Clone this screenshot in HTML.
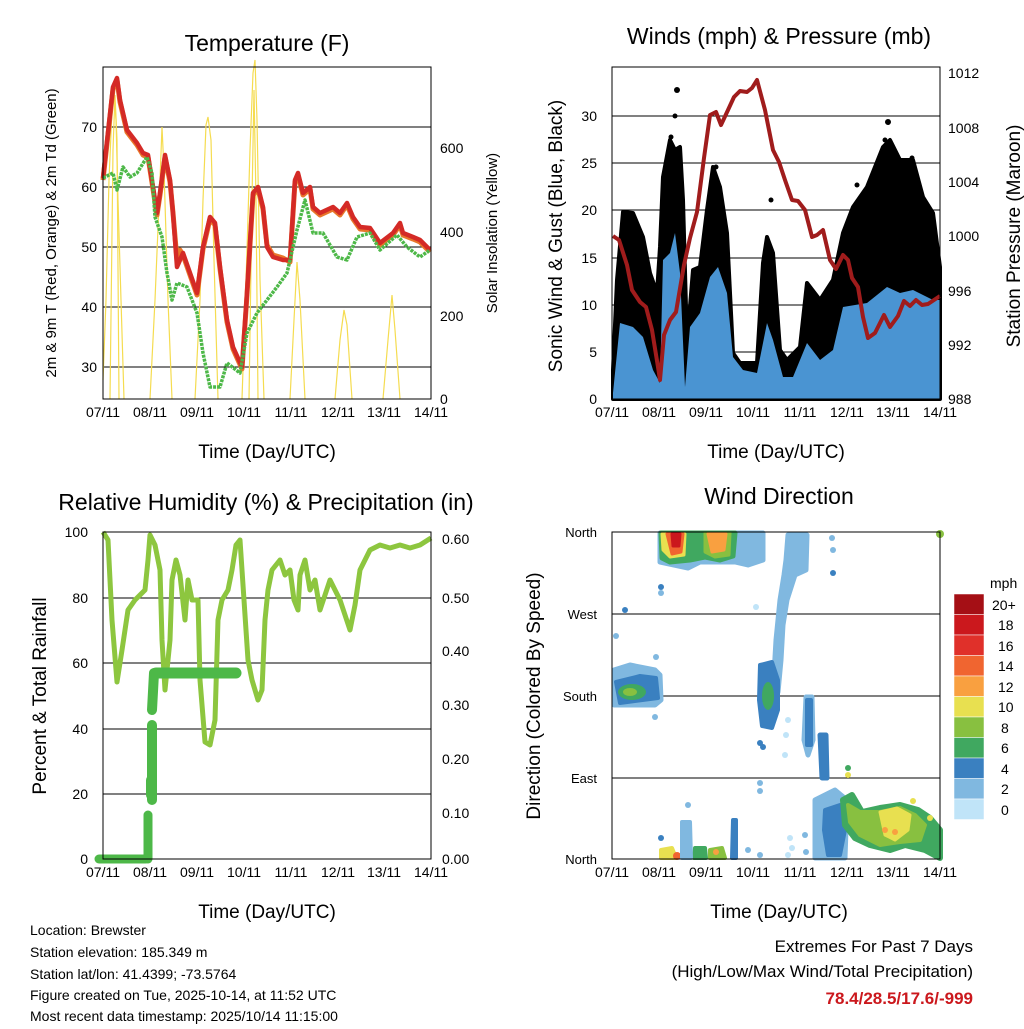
<!DOCTYPE html>
<html><head><meta charset="utf-8"><style>
body{margin:0;background:#fff}
svg{font-family:"Liberation Sans",sans-serif}
</style></head><body>
<svg width="1024" height="1024" viewBox="0 0 1024 1024" xmlns="http://www.w3.org/2000/svg">
<rect width="1024" height="1024" fill="#fff"/>
<!-- ============ PANEL 1 TEMPERATURE ============ -->
<text x="267" y="51" font-size="23" text-anchor="middle">Temperature (F)</text>
<g stroke="#000" stroke-width="1">
<line x1="103" y1="127" x2="431" y2="127"/><line x1="103" y1="187" x2="431" y2="187"/><line x1="103" y1="247" x2="431" y2="247"/><line x1="103" y1="307" x2="431" y2="307"/><line x1="103" y1="367" x2="431" y2="367"/>
</g>
<g fill="none" stroke="#f5dc50" stroke-width="1.2">
<path d="M103,380 L106,300 L109,180 L112,110 L114,93 L116,120 L118,200 L121,300 L124,399"/>
<path d="M110,399 L113,150 L115,95 L117,140 L119,399"/>
<path d="M150,399 L155,300 L160,180 L162,127 L164,170 L168,300 L172,399"/>
<path d="M195,399 L200,300 L203,200 L206,125 L208,117 L211,140 L214,260 L218,399"/>
<path d="M242,399 L247,250 L250,150 L253,73 L255,60 L257,120 L260,280 L264,399"/>
<path d="M249,399 L252,200 L254,90 L256,200 L258,399"/>
<path d="M290,399 L294,320 L297,262 L300,300 L305,399"/>
<path d="M335,399 L340,340 L344,310 L347,325 L352,399"/>
<path d="M383,399 L388,340 L392,295 L395,330 L400,399"/>
</g>
<polyline fill="none" stroke="#e8762a" stroke-width="5" stroke-linejoin="round" points="103,180 113,89 117,80 120,102 127,132 137,145 143,155 148,157 153,189 157,215 160,195 165,157 170,182 173,213 177,260 180,250 183,255 190,275 197,295 203,249 210,219 215,225 220,269 227,322 233,349 242,369 247,295 253,195 258,189 263,209 267,245 273,255 283,258 290,262 295,182 298,175 303,195 310,189 313,209 320,215 333,209 340,215 347,205 353,219 360,229 370,230 380,245 393,235 400,225 403,235 413,239 420,242 430,252"/>
<polyline fill="none" stroke="#d42a26" stroke-width="4.5" stroke-linejoin="round" points="103,178 113,87 117,78 120,100 127,130 137,143 143,153 148,155 153,187 157,213 160,193 165,155 170,180 173,213 177,267 180,260 183,253 190,273 197,293 203,247 210,217 215,223 220,267 227,320 233,347 242,367 247,293 253,193 258,187 263,207 267,247 273,257 283,260 290,260 295,180 298,173 303,193 310,187 313,207 320,213 333,207 340,213 347,203 353,217 360,227 370,228 380,243 393,233 400,223 403,233 413,237 420,240 430,250"/>
<polyline fill="none" stroke="#4db848" stroke-width="3.5" stroke-dasharray="3,1" stroke-linejoin="round" points="103,178 113,173 117,190 123,167 130,177 137,173 147,157 152,173 155,217 162,237 167,273 172,300 177,283 187,287 197,313 203,353 210,387 220,387 227,363 240,373 247,333 257,313 267,300 277,287 287,273 297,230 305,200 313,233 323,233 337,257 347,260 357,237 370,233 380,250 397,235 407,247 420,257 430,250"/>
<rect x="103" y="67" width="328" height="332" fill="none" stroke="#000" stroke-width="1"/>
<g font-size="14" text-anchor="end">
<text x="97" y="132">70</text><text x="97" y="192">60</text><text x="97" y="252">50</text><text x="97" y="312">40</text><text x="97" y="372">30</text>
</g>
<g font-size="14">
<text x="440" y="153">600</text><text x="440" y="237">400</text><text x="440" y="321">200</text><text x="440" y="404">0</text>
</g>
<g font-size="14" text-anchor="middle">
<text x="103" y="417">07/11</text><text x="150" y="417">08/11</text><text x="197" y="417">09/11</text><text x="244" y="417">10/11</text><text x="291" y="417">11/11</text><text x="338" y="417">12/11</text><text x="384" y="417">13/11</text><text x="431" y="417">14/11</text>
</g>
<text x="267" y="458" font-size="19" text-anchor="middle">Time (Day/UTC)</text>
<text transform="translate(56,233) rotate(-90)" font-size="15" text-anchor="middle">2m &amp; 9m T (Red, Orange) &amp; 2m Td (Green)</text>
<text transform="translate(497,233) rotate(-90)" font-size="15" text-anchor="middle">Solar Insolation (Yellow)</text>

<!-- ============ PANEL 2 WINDS ============ -->
<text x="779" y="44" font-size="23" text-anchor="middle">Winds (mph) &amp; Pressure (mb)</text>
<g stroke="#000" stroke-width="1">
<line x1="612" y1="116" x2="940" y2="116"/><line x1="612" y1="163" x2="940" y2="163"/><line x1="612" y1="210" x2="940" y2="210"/><line x1="612" y1="258" x2="940" y2="258"/><line x1="612" y1="305" x2="940" y2="305"/><line x1="612" y1="352" x2="940" y2="352"/>
</g>
<polygon fill="#000" stroke="#000" stroke-width="4" stroke-linejoin="round" points="613,399 613,370 617,280 623,212 633,213 643,237 650,273 657,293 660,247 663,177 670,140 675,150 680,147 683,200 687,343 693,270 700,267 707,210 713,167 720,187 727,233 733,353 740,363 757,363 763,263 767,237 773,253 780,350 787,360 800,347 807,283 820,300 833,280 843,233 853,207 867,187 883,147 890,140 900,160 913,160 923,197 933,213 940,267 940,399"/>
<g fill="#000"><circle cx="677" cy="90" r="3"/><circle cx="675" cy="116" r="2.5"/><circle cx="671" cy="137" r="2.5"/><circle cx="716" cy="167" r="2.5"/><circle cx="771" cy="200" r="2.5"/><circle cx="888" cy="122" r="3"/><circle cx="885" cy="140" r="2.5"/><circle cx="912" cy="158" r="2.5"/><circle cx="625" cy="212" r="2.5"/><circle cx="857" cy="185" r="2.5"/></g>
<polygon fill="#4a94d2" points="613,399 613,393 620,323 633,327 643,337 653,370 660,383 663,260 670,253 675,233 680,273 685,387 690,327 700,313 710,277 718,267 727,293 733,357 743,370 757,373 767,323 773,340 783,377 793,377 807,343 820,360 833,350 843,307 867,303 887,287 900,293 913,290 933,300 940,300 940,399"/>
<polyline fill="none" stroke="#a01c1c" stroke-width="4" stroke-linejoin="round" points="613,236 619,240 627,265 632,290 640,302 646,307 652,330 658,367 660,380 664,335 670,320 676,312 684,265 690,238 697,212 704,158 710,115 716,112 721,125 728,110 734,97 740,91 747,92 752,88 757,80 765,110 773,150 779,162 785,180 792,200 798,201 805,210 812,237 817,235 823,230 830,260 836,269 843,255 848,260 852,278 858,287 863,317 868,338 875,333 884,315 890,327 898,316 904,301 910,306 916,300 922,305 928,304 934,300 940,296"/>
<rect x="612" y="67" width="328" height="332" fill="none" stroke="#000" stroke-width="1"/>
<g font-size="14" text-anchor="end">
<text x="597" y="121">30</text><text x="597" y="168">25</text><text x="597" y="215">20</text><text x="597" y="263">15</text><text x="597" y="310">10</text><text x="597" y="357">5</text><text x="597" y="404">0</text>
</g>
<g font-size="14">
<text x="948" y="78">1012</text><text x="948" y="133">1008</text><text x="948" y="187">1004</text><text x="948" y="241">1000</text><text x="948" y="296">996</text><text x="948" y="350">992</text><text x="948" y="404">988</text>
</g>
<g font-size="14" text-anchor="middle">
<text x="612" y="417">07/11</text><text x="659" y="417">08/11</text><text x="706" y="417">09/11</text><text x="753" y="417">10/11</text><text x="800" y="417">11/11</text><text x="847" y="417">12/11</text><text x="893" y="417">13/11</text><text x="940" y="417">14/11</text>
</g>
<text x="776" y="458" font-size="19" text-anchor="middle">Time (Day/UTC)</text>
<text transform="translate(562,236) rotate(-90)" font-size="19" text-anchor="middle">Sonic Wind &amp; Gust (Blue, Black)</text>
<text transform="translate(1020,236) rotate(-90)" font-size="19" text-anchor="middle">Station Pressure (Maroon)</text>

<!-- ============ PANEL 3 RH ============ -->
<text x="266" y="510" font-size="23" text-anchor="middle">Relative Humidity (%) &amp; Precipitation (in)</text>
<g stroke="#000" stroke-width="1">
<line x1="103" y1="598" x2="431" y2="598"/><line x1="103" y1="663" x2="431" y2="663"/><line x1="103" y1="729" x2="431" y2="729"/><line x1="103" y1="794" x2="431" y2="794"/>
</g>
<polyline fill="none" stroke="#8dc63f" stroke-width="5" stroke-linejoin="round" points="103,532 108,540 112,620 117,682 122,650 128,610 135,600 145,590 148,560 150,535 155,545 160,570 162,640 165,690 170,640 172,580 176,560 180,575 185,620 188,580 192,600 198,600 200,680 205,742 210,745 215,720 218,620 222,600 228,590 232,570 236,545 240,540 244,600 248,660 252,680 258,700 262,690 265,620 268,590 272,570 280,560 285,575 290,570 294,600 298,610 300,575 305,560 310,590 315,580 320,610 330,580 340,600 350,630 355,605 360,570 365,560 370,550 380,545 390,548 400,545 410,548 420,545 431,538"/>
<g stroke="#4db848" stroke-linecap="round" fill="none">
<line x1="99" y1="859" x2="146" y2="859" stroke-width="9"/>
<line x1="148" y1="859" x2="148" y2="815" stroke-width="9"/>
<line x1="152" y1="800" x2="152" y2="725" stroke-width="10"/>
<line x1="152" y1="710" x2="154" y2="673" stroke-width="10"/>
<line x1="156" y1="673" x2="236" y2="673" stroke-width="11"/>
<line x1="151" y1="780" x2="151" y2="795" stroke-width="10"/>
</g>
<rect x="103" y="532" width="328" height="327" fill="none" stroke="#000" stroke-width="1"/>
<g font-size="14" text-anchor="end">
<text x="88" y="537">100</text><text x="88" y="603">80</text><text x="88" y="668">60</text><text x="88" y="734">40</text><text x="88" y="799">20</text><text x="88" y="864">0</text>
</g>
<g font-size="14">
<text x="442" y="544">0.60</text><text x="442" y="603">0.50</text><text x="442" y="656">0.40</text><text x="442" y="710">0.30</text><text x="442" y="764">0.20</text><text x="442" y="818">0.10</text><text x="442" y="864">0.00</text>
</g>
<g font-size="14" text-anchor="middle">
<text x="103" y="877">07/11</text><text x="150" y="877">08/11</text><text x="197" y="877">09/11</text><text x="244" y="877">10/11</text><text x="291" y="877">11/11</text><text x="338" y="877">12/11</text><text x="384" y="877">13/11</text><text x="431" y="877">14/11</text>
</g>
<text x="267" y="918" font-size="19" text-anchor="middle">Time (Day/UTC)</text>
<text transform="translate(46,696) rotate(-90)" font-size="19" text-anchor="middle">Percent &amp; Total Rainfall</text>

<!-- ============ PANEL 4 WIND DIRECTION ============ -->
<text x="779" y="504" font-size="23" text-anchor="middle">Wind Direction</text>
<g stroke="#000" stroke-width="1">
<line x1="612" y1="614" x2="940" y2="614"/><line x1="612" y1="696" x2="940" y2="696"/><line x1="612" y1="778" x2="940" y2="778"/>
</g>
<g stroke-linejoin="round" stroke-linecap="round">
<polygon fill="#80b8e0" stroke="#80b8e0" stroke-width="5" points="660,533 735,533 763,533 763,560 748,565 735,562 700,562 688,568 660,562"/>
<polygon fill="#40a860" stroke="#40a860" stroke-width="5" points="661,533 735,533 733,556 720,560 705,557 690,560 670,562 662,558"/>
<polygon fill="#88c040" stroke="#88c040" stroke-width="3" points="705,533 730,533 729,555 715,557 705,552"/>
<polygon fill="#f9a040" stroke="#f9a040" stroke-width="3" points="708,534 726,534 724,550 712,552"/>
<polygon fill="#e8e050" stroke="#e8e050" stroke-width="3" points="662,534 685,534 684,555 670,557 663,550"/>
<polygon fill="#f06530" stroke="#f06530" stroke-width="3" points="667,534 683,534 681,552 672,554"/>
<polygon fill="#cb181d" stroke="#cb181d" stroke-width="3" points="672,534 680,534 679,546 673,546"/>
<polygon fill="#80b8e0" stroke="#80b8e0" stroke-width="5" points="788,535 807,535 806,570 795,575 787,600 783,625 781,660 778,692 773,692 776,640 780,600 784,575 786,560"/>
<circle cx="832" cy="538" r="3" fill="#80b8e0"/><circle cx="833" cy="550" r="3" fill="#80b8e0"/><circle cx="833" cy="573" r="3" fill="#3a80c0"/>
<circle cx="756" cy="607" r="3" fill="#c0e4f8"/><circle cx="625" cy="610" r="3" fill="#3a80c0"/><circle cx="661" cy="587" r="3" fill="#3a80c0"/><circle cx="661" cy="593" r="3" fill="#80b8e0"/>
<polygon fill="#80b8e0" stroke="#80b8e0" stroke-width="5" points="614,670 630,665 655,670 660,675 661,700 655,705 630,705 614,705"/>
<polygon fill="#3a80c0" stroke="#3a80c0" stroke-width="4" points="616,682 640,676 656,678 658,698 620,703"/>
<ellipse cx="632" cy="692" rx="14" ry="8" fill="#40a860"/>
<ellipse cx="630" cy="692" rx="7" ry="4" fill="#88c040"/>
<circle cx="655" cy="717" r="3" fill="#80b8e0"/><circle cx="656" cy="657" r="3" fill="#80b8e0"/><circle cx="616" cy="636" r="3" fill="#80b8e0"/>
<polygon fill="#3a80c0" stroke="#3a80c0" stroke-width="4" points="760,665 772,662 778,680 778,710 772,728 762,726 759,700"/>
<ellipse cx="768" cy="696" rx="6" ry="14" fill="#40a860"/>
<circle cx="760" cy="743" r="3" fill="#3a80c0"/><circle cx="763" cy="747" r="3" fill="#3a80c0"/><circle cx="760" cy="783" r="3" fill="#80b8e0"/><circle cx="760" cy="791" r="3" fill="#80b8e0"/>
<circle cx="788" cy="720" r="3" fill="#c0e4f8"/><circle cx="786" cy="735" r="3" fill="#c0e4f8"/><circle cx="785" cy="755" r="3" fill="#c0e4f8"/>
<polygon fill="#80b8e0" stroke="#80b8e0" stroke-width="5" points="806,697 812,697 813,740 808,755 804,740"/>
<polygon fill="#3a80c0" stroke="#3a80c0" stroke-width="4" points="807,700 811,700 811,745 807,745"/>
<polygon fill="#3a80c0" stroke="#3a80c0" stroke-width="5" points="820,735 826,735 827,778 822,778"/>
<polygon fill="#80b8e0" stroke="#80b8e0" stroke-width="5" points="815,800 835,790 847,800 845,858 815,858"/>
<polygon fill="#3a80c0" stroke="#3a80c0" stroke-width="4" points="825,810 840,805 845,830 840,855 828,855 824,830"/>
<polygon fill="#40a860" stroke="#40a860" stroke-width="6" points="843,800 852,795 862,812 880,808 900,805 918,810 930,818 940,830 940,858 925,850 905,845 890,850 870,845 855,838 845,825"/>
<polygon fill="#88c040" stroke="#88c040" stroke-width="4" points="848,805 860,812 880,812 900,808 915,815 925,825 920,840 900,842 880,845 860,835 850,822"/>
<polygon fill="#e8e050" stroke="#e8e050" stroke-width="3" points="880,812 897,808 910,815 908,830 895,840 885,835"/>
<circle cx="848" cy="775" r="3" fill="#e8e050"/><circle cx="848" cy="768" r="3" fill="#40a860"/>
<circle cx="895" cy="832" r="3" fill="#f9a040"/><circle cx="885" cy="830" r="3" fill="#f9a040"/>
<circle cx="913" cy="801" r="3" fill="#e8e050"/><circle cx="930" cy="818" r="3" fill="#e8e050"/>
<circle cx="940" cy="534" r="4" fill="#88c040"/>
<polygon fill="#e8e050" stroke="#e8e050" stroke-width="4" points="661,850 672,848 676,858 661,858"/>
<circle cx="677" cy="856" r="4" fill="#f06530"/>
<polygon fill="#40a860" stroke="#40a860" stroke-width="4" points="695,848 705,848 706,858 694,858"/>
<polygon fill="#88c040" stroke="#88c040" stroke-width="4" points="710,850 722,848 725,858 710,858"/>
<circle cx="716" cy="852" r="3" fill="#f9a040"/>
<polygon fill="#3a80c0" stroke="#3a80c0" stroke-width="4" points="733,820 736,820 736,858 732,858"/>
<polygon fill="#80b8e0" stroke="#80b8e0" stroke-width="4" points="682,822 690,822 691,858 682,858"/>
<circle cx="661" cy="838" r="3" fill="#3a80c0"/><circle cx="688" cy="805" r="3" fill="#80b8e0"/><circle cx="748" cy="850" r="3" fill="#80b8e0"/><circle cx="760" cy="855" r="3" fill="#80b8e0"/>
<circle cx="790" cy="838" r="3" fill="#c0e4f8"/><circle cx="792" cy="848" r="3" fill="#c0e4f8"/><circle cx="788" cy="855" r="3" fill="#c0e4f8"/>
<circle cx="805" cy="835" r="3" fill="#80b8e0"/><circle cx="806" cy="852" r="3" fill="#80b8e0"/>
</g>
<rect x="612" y="532" width="328" height="327" fill="none" stroke="#000" stroke-width="1"/>
<g font-size="13" text-anchor="end">
<text x="597" y="537">North</text><text x="597" y="619">West</text><text x="597" y="701">South</text><text x="597" y="783">East</text><text x="597" y="864">North</text>
</g>
<g font-size="14" text-anchor="middle">
<text x="612" y="877">07/11</text><text x="659" y="877">08/11</text><text x="706" y="877">09/11</text><text x="753" y="877">10/11</text><text x="800" y="877">11/11</text><text x="847" y="877">12/11</text><text x="893" y="877">13/11</text><text x="940" y="877">14/11</text>
</g>
<text x="779" y="918" font-size="19" text-anchor="middle">Time (Day/UTC)</text>
<text transform="translate(540,696) rotate(-90)" font-size="19" text-anchor="middle">Direction (Colored By Speed)</text>
<text x="990" y="588" font-size="14">mph</text>
<g stroke="#fff" stroke-width="0.5">
<rect x="954" y="594" width="30" height="20.5" fill="#a50f15"/>
<rect x="954" y="614.5" width="30" height="20.5" fill="#cb181d"/>
<rect x="954" y="635" width="30" height="20.5" fill="#e0302a"/>
<rect x="954" y="655.5" width="30" height="20.5" fill="#f06530"/>
<rect x="954" y="676" width="30" height="20.5" fill="#f9a040"/>
<rect x="954" y="696.5" width="30" height="20.5" fill="#e8e050"/>
<rect x="954" y="717" width="30" height="20.5" fill="#88c040"/>
<rect x="954" y="737.5" width="30" height="20.5" fill="#40a860"/>
<rect x="954" y="758" width="30" height="20.5" fill="#3a80c0"/>
<rect x="954" y="778.5" width="30" height="20.5" fill="#80b8e0"/>
<rect x="954" y="799" width="30" height="20.5" fill="#c0e4f8"/>
</g>
<g font-size="14">
<text x="992" y="610">20+</text><text x="998" y="630">18</text><text x="998" y="651">16</text><text x="998" y="671">14</text><text x="998" y="692">12</text><text x="998" y="712">10</text><text x="1001" y="733">8</text><text x="1001" y="753">6</text><text x="1001" y="774">4</text><text x="1001" y="794">2</text><text x="1001" y="815">0</text>
</g>

<!-- ============ FOOTER ============ -->
<g font-size="14">
<text x="30" y="935">Location: Brewster</text>
<text x="30" y="957">Station elevation: 185.349 m</text>
<text x="30" y="979">Station lat/lon: 41.4399; -73.5764</text>
<text x="30" y="1000">Figure created on Tue, 2025-10-14, at 11:52 UTC</text>
<text x="30" y="1021">Most recent data timestamp: 2025/10/14 11:15:00</text>
</g>
<g text-anchor="end">
<text x="973" y="952" font-size="17">Extremes For Past 7 Days</text>
<text x="973" y="977" font-size="17">(High/Low/Max Wind/Total Precipitation)</text>
<text x="973" y="1004" font-size="17" font-weight="bold" fill="#cb181d">78.4/28.5/17.6/-999</text>
</g>
</svg>
</body></html>
